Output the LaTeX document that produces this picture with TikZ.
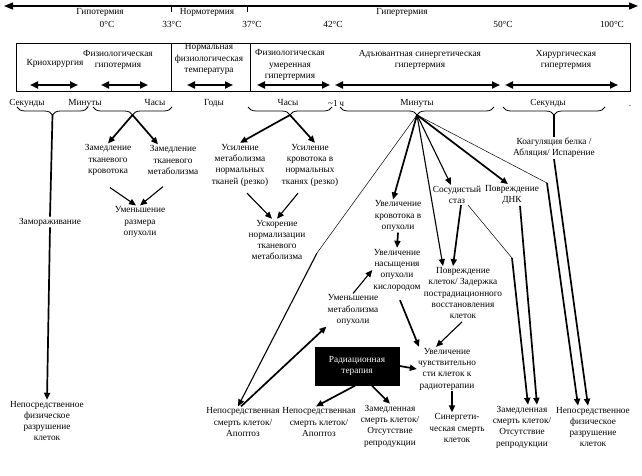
\documentclass[tikz,border=0pt]{standalone}
\usepackage{fontspec}
\setmainfont{Liberation Serif}
\usetikzlibrary{arrows.meta, decorations.pathreplacing}
\newcommand{\lwthin}{0.5pt}
\newcommand{\lwmid}{1.1pt}
\newcommand{\lwthick}{1.7pt}
\newcommand{\axisy}{6}
\newcommand{\bracey}{107}

\begin{document}
\begin{tikzpicture}[x=1pt, y=-1pt, >={Triangle[length=7pt, width=6pt]},
    every node/.style={font=\fontsize{9.3}{11.3}\selectfont, align=center, inner sep=1pt},
    heavy/.style={line width=\lwthick},
    medium/.style={line width=\lwmid},
    fine/.style={line width=\lwthin},
    spanarrow/.style={<->, line width=2pt, >={Triangle[length=8pt, width=7pt]}},
    hbrace/.style={decorate, decoration={brace, mirror, amplitude=8pt}, line width=0.8pt}]
    \useasboundingbox (0,0) rectangle (642,476);

    % temperature axis
    \coordinate (axL) at (4, \axisy);
    \coordinate (axR) at (638, \axisy);
    \draw[<->, line width=1.3pt, >={Triangle[length=9pt, width=7pt]}] (axL) -- (axR);
    \draw[line width=0.8pt] (171, \axisy) -- (171, 12);
    \draw[line width=0.8pt] (247, \axisy) -- (247, 12);
    \node (hypo) at (100, 12) {Гипотермия};
    \node (normo) at (207, 12) {Нормотермия};
    \node (hyper) at (402, 12) {Гипертермия};
    \node (t0) at (107, 24) {0°C};
    \node (t33) at (172, 24) {33°C};
    \node (t37) at (252, 24) {37°C};
    \node (t42) at (333, 24) {42°C};
    \node (t50) at (503, 24) {50°C};
    \node (t100) at (612, 24) {100°C};

    % method box
    \draw[line width=0.8pt] (16, 43) rectangle (630, 91);
    \draw[line width=0.8pt] (171, 43) -- (171, 91);
    \draw[line width=0.8pt] (250, 43) -- (250, 91);
    \node (cryo) at (55, 63) {Криохирургия};
    \node (physHypo) at (118, 60) {Физиологическая\\гипотермия};
    \node (normT) at (209, 59) {Нормальная\\физиологическая\\температура};
    \node (physHyper) at (290, 65) {Физиологическая\\умеренная\\гипертермия};
    \node (adjHyper) at (420, 60) {Адъювантная синергетическая\\гипертермия};
    \node (surgHyper) at (566, 60) {Хирургическая\\гипертермия};
    \draw[spanarrow] (30, 85) -- (78, 85);
    \draw[spanarrow] (101, 85) -- (148, 85);
    \draw[spanarrow] (187, 85) -- (233, 85);
    \draw[spanarrow] (257, 85) -- (330, 85);
    \draw[spanarrow] (335, 85) -- (500, 85);
    \draw[spanarrow] (505, 85) -- (618, 85);

    % time scale
    \node (sec1) at (27, 103) {Секунды};
    \node (min1) at (85, 103) {Минуты};
    \node (hrs1) at (155, 103) {Часы};
    \node (yrs) at (214, 103) {Годы};
    \node (hrs2) at (288, 103) {Часы};
    \node (hour) at (336, 103) {\textasciitilde1\,ч};
    \node (min2) at (417, 103) {Минуты};
    \node (sec2) at (548, 103) {Секунды};
    \node (dot) at (630, 106) {.};
    \draw[hbrace] (17, \bracey) -- (88, \bracey);
    \draw[hbrace] (93, \bracey) -- (172, \bracey);
    \draw[hbrace] (248, \bracey) -- (332, \bracey);
    \draw[hbrace] (340, \bracey) -- (494, \bracey);
    \draw[hbrace] (503, \bracey) -- (605, \bracey);
    \coordinate (tSec) at (52.5, 115);
    \coordinate (tHrs) at (132.5, 115);
    \coordinate (tHrsN) at (290, 115);
    \coordinate (tMin) at (417, 115);
    \coordinate (tSecS) at (554, 115);

    % effects
    \node (freeze) at (50, 222) {Замораживание};
    \node (dirL) at (47, 421) {Непосредственное\\физическое\\разрушение\\клеток};
    \node (slowFlow) at (108, 160) {Замедление\\тканевого\\кровотока};
    \node (slowMet) at (173, 160) {Замедление\\тканевого\\метаболизма};
    \node (shrink) at (140, 222) {Уменьшение\\размера\\опухоли};
    \node (incMet) at (240, 165) {Усиление\\метаболизма\\нормальных\\тканей (резко)};
    \node (incFlow) at (310, 165) {Усиление\\кровотока в\\нормальных\\тканях (резко)};
    \node (accel) at (277, 240) {Ускорение\\нормализации\\тканевого\\метаболизма};
    \node (tumFlow) at (398, 216) {Увеличение\\кровотока в\\опухоли};
    \node (oxy) at (397, 270) {Увеличение\\насыщения\\опухоли\\кислородом};
    \node (tumMet) at (353, 310) {Уменьшение\\метаболизма\\опухоли};
    \node (stasis) at (457, 195) {Сосудистый\\стаз};
    \node (dna) at (512, 195) {Повреждение\\ДНК};
    \node (coag) at (554, 148) {Коагуляция белка /\\Абляция/ Испарение};
    \node (damage) at (463, 293) {Повреждение\\клеток/ Задержка\\пострадиационного\\восстановления\\клеток};
    \node (sens) at (447, 369) {Увеличение\\чувствительно\\сти клеток к\\радиотерапии};
    \node[fill=black, text=white, minimum width=85pt, minimum height=39pt] (rad) at (357, 366) {Радиационная\\терапия};
    \node (apopL) at (243, 422) {Непосредственная\\смерть клеток/\\Апоптоз};
    \node (apopM) at (319, 422) {Непосредственная\\смерть клеток/\\Апоптоз};
    \node (slowM) at (390, 426) {Замедленная\\смерть клеток/\\Отсутствие\\репродукции};
    \node (syn) at (457, 428) {Синергети-\\ческая смерть\\клеток};
    \node (slowR) at (522, 427) {Замедленная\\смерть клеток/\\Отсутствие\\репродукции};
    \node (dirR) at (593, 427) {Непосредственное\\физическое\\разрушение\\клеток};

    % seconds / hours (left)
    \draw[heavy] (tSec) -- (freeze.north);
    \draw[heavy, ->] (freeze.south) -- (dirL.north);
    \draw[heavy, ->] (tHrs) -- (slowFlow.north);
    \draw[heavy, ->] (tHrs) -- ([xshift=-15pt]slowMet.north);
    \draw[medium, ->] ([shift={(2pt,-11pt)}]slowFlow.south) -- ([xshift=-4pt]shrink.north);
    \draw[medium, ->] ([shift={(-10pt,-11pt)}]slowMet.south) -- (shrink.north);

    % hours (normal tissue)
    \draw[heavy, ->] (tHrsN) -- (incMet.north);
    \draw[heavy, ->] (tHrsN) -- ([xshift=5pt]incFlow.north);
    \draw[medium, ->] ([shift={(7pt,-6pt)}]incMet.south) -- ([xshift=-5pt]accel.north);
    \draw[medium, ->] ([shift={(-12pt,-6pt)}]incFlow.south) -- (accel.north);

    % minutes
    \coordinate (kneeA) at (317, 253);
    \coordinate (kneeB) at (547, 183);
    \draw[fine] (tMin) -- (kneeA);
    \draw[medium, ->] (kneeA) -- ([xshift=-5pt]apopL.north);
    \draw[heavy, ->] ([xshift=-2pt]apopL.north) -- (tumMet.south west);
    \draw[heavy, ->] (tMin) -- ([xshift=-5pt]tumFlow.north);
    \draw[heavy, ->] (tumFlow.south) -- (oxy.north);
    \draw[medium, ->] (tumMet.north) -- (oxy.west);
    \draw[medium, ->] (tMin) -- ([xshift=-20pt]damage.north);
    \draw[medium, ->] (tMin) -- ([xshift=-6pt]stasis.north);
    \draw[heavy, ->] (tMin) -- ([xshift=-4pt]dna.north);
    \draw[fine] (tMin) -- (kneeB);
    \draw[heavy, ->] (kneeB) -- ([xshift=-15pt]dirR.north);

    % seconds (right)
    \draw[heavy] (tSecS) -- (coag.north);
    \draw[heavy, ->] (coag.south) -- ([xshift=-5pt]dirR.north);

    % damage paths
    \coordinate (kneeC) at (512, 258);
    \draw[heavy, ->] ([xshift=4pt]stasis.south) -- ([xshift=-10pt]damage.north);
    \draw[fine] ([xshift=11pt]stasis.south) -- (kneeC);
    \draw[heavy, ->] (kneeC) -- ([xshift=6pt]slowR.north);
    \draw[heavy, ->] ([xshift=8pt]dna.south) -- ([xshift=15pt]slowR.north);
    \draw[medium, ->] ([shift={(-1pt,-2pt)}]damage.south) -- ([xshift=-11pt]sens.north);
    \draw[heavy, ->] ([shift={(3pt,-8pt)}]oxy.south) -- ([xshift=-28pt]sens.north);

    % radiation
    \draw[heavy, ->] (rad.east) -- (sens.west);
    \draw[heavy, ->] ([xshift=-2pt]rad.south) -- ([xshift=-3pt]apopM.north);
    \draw[heavy, ->] ([xshift=15pt]rad.south) -- (slowM.north);
    \draw[heavy, ->] ([xshift=5pt]sens.south) -- ([xshift=-5pt]syn.north);
\end{tikzpicture}
\end{document}
